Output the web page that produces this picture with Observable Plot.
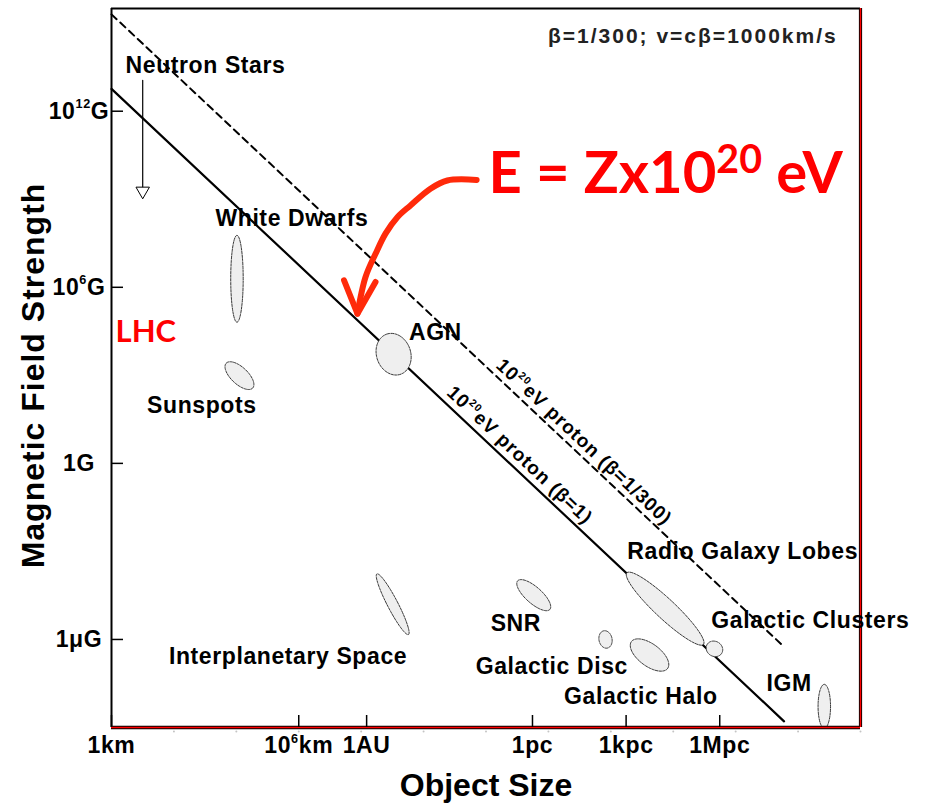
<!DOCTYPE html>
<html>
<head>
<meta charset="utf-8">
<script src="https://cdn.jsdelivr.net/npm/d3@7"></script>
<script src="https://cdn.jsdelivr.net/npm/@observablehq/plot@0.6"></script>
<style>
  body { margin: 0; background: #fff; }
  #chart svg { overflow: visible; }
</style>
</head>
<body>
<div id="chart"></div>
<script>
// ---- Axis ticks (R in metres, B in gauss) ----
const xTickValues = [1e3, 1e9, 1.496e11, 3.086e16, 3.086e19, 3.086e22];
const xTickLabels = ["1km", "10^{6}km", "1AU", "1pc", "1kpc", "1Mpc"];
const yTickValues = [1e12, 1e6, 1, 1e-6];
const yTickLabels = ["10^{12}G", "10^{6}G", "1G", "1μG"];
const xMinorLog = [5, 7, 9, 11, 13, 15, 17, 19, 21, 23, 25, 27];

// ---- Hillas lines: log10(B·R) constant (gauss·metre) ----
const lineLogR = [3, 24.55];
const protonBeta1LogBR = 15.76;
const protonBeta300LogBR = 18.3;

// ---- Source regions (log10 R, log10 B, half-extent along/across major axis in decades, tilt) ----
const objNames   = ["White Dwarfs", "Sunspots", "AGN", "Interplanetary Space", "SNR", "Galactic Disc", "Galactic Halo", "Radio Galaxy Lobes", "Galactic Clusters", "IGM"];
const objLogR    = [7.02, 7.10, 12.04, 12.01, 16.53, 18.83, 20.24, 20.74, 22.32, 25.84];
const objLogB    = [6.29, 2.99, 3.72, -4.80, -4.49, -6.00, -6.53, -4.95, -6.32, -8.28];
const objMajor   = [1.48, 0.60, 0.72, 1.15, 0.71, 0.30, 0.74, 1.73, 0.28, 0.75];
const objMinor   = [0.20, 0.28, 0.55, 0.17, 0.27, 0.21, 0.37, 0.33, 0.25, 0.20];
const objTilt    = [90, -46, 105, -64, -44, 100, -39.5, -45, -45, 90];

// ---- Region labels (log10 R of text start, log10 B of text centre) ----
const labelNames = ["Neutron Stars", "White Dwarfs", "Sunspots", "AGN", "Interplanetary Space", "SNR", "Galactic Disc", "Galactic Halo", "Radio Galaxy Lobes", "Galactic Clusters", "IGM"];
const labelLogR  = [3.45, 6.33, 4.14, 12.53, 4.84, 15.15, 14.67, 17.50, 19.53, 22.22, 23.99];
const labelLogB  = [13.57, 8.33, 1.98, 4.45, -6.60, -5.45, -6.94, -7.95, -3.02, -5.37, -7.50];

// ---- Line labels ----
const lineLabels = ["10^{20}eV proton (β=1)", "10^{20}eV proton (β=1/300)"];
const lineLabelLogR = [16.08, 18.14];
const lineLabelLogB = [0.28, 0.73];

// ---- Neutron star upper-limit arrow ----
const nsLogR = 4.0;
const nsLogB = [13.05, 9.41];
const nsHeadLogB = 9.28;

// ---- Red hand-drawn arrow (log10 R, log10 B) ----
const redArrowLogR = [14.70, 13.76, 13.22, 12.58, 12.16, 11.78, 11.46, 11.14, 10.88];
const redArrowLogB = [9.66, 9.64, 9.36, 8.79, 8.39, 7.83, 7.14, 6.35, 5.10];
const redHeadLogR = [10.45, 10.88, 11.46];
const redHeadLogB = [6.24, 5.10, 6.18];

// ---- Annotations ----
const noteText = "β=1/300; v=cβ=1000km/s";
const noteLogR = 26.27, noteLogB = 14.54;
const bigText = "E = Zx10^{20} eV";
const bigLogR = 15.08, bigLogB = 9.84;
const lhcText = "LHC";
const lhcLogR = 3.13, lhcLogB = 4.46;

// ---- Build tables ----
const P = v => 10 ** v;
const ellipsePts = [];
objNames.forEach((name, i) => {
  const th = objTilt[i] * Math.PI / 180;
  for (let k = 0; k < 72; k++) {
    const t = k / 72 * 2 * Math.PI;
    const u = objMajor[i] * Math.cos(t), v = objMinor[i] * Math.sin(t);
    ellipsePts.push({name, lr: objLogR[i] + u * Math.cos(th) - v * Math.sin(th), lb: objLogB[i] + u * Math.sin(th) + v * Math.cos(th)});
  }
});
const labels = labelNames.map((n, i) => ({n, lr: labelLogR[i], lb: labelLogB[i]}));
const lineLabs = lineLabels.map((n, i) => ({n, lr: lineLabelLogR[i], lb: lineLabelLogB[i]}));
const redArrow = redArrowLogR.map((lr, i) => ({lr, lb: redArrowLogB[i]}));
const redHead = redHeadLogR.map((lr, i) => ({lr, lb: redHeadLogB[i]}));
const lookup = (vals, labs) => d => {
  const i = vals.findIndex(v => Math.abs(Math.log10(v) - Math.log10(d)) < 1e-6);
  return i >= 0 ? labs[i] : "";
};
const pixAngle = Math.atan((29.37) / (31.2)) * 180 / Math.PI;

const RED = "#ff0000";
const ARROWRED = "#ff2a0a";

const plot = Plot.plot({
  width: 933,
  height: 811,
  marginLeft: 111,
  marginRight: 73,
  marginTop: 8,
  marginBottom: 84,
  x: {type: "log", domain: [1e3, 1e27], axis: null},
  y: {type: "log", domain: [1e-9, 10 ** 15.5], axis: null},
  style: "background:#fff;color:#000;font-family:'Liberation Sans',Arial,Helvetica,sans-serif;letter-spacing:0.6px;overflow:visible;",
  marks: [
    // minor dots below the x axis
    Plot.dot(xMinorLog, {x: P, y: 1e-9, dy: 4, r: 1, fill: "#c4c4c4"}),
    // Hillas lines
    Plot.line(lineLogR, {x: P, y: d => P(protonBeta300LogBR - d), stroke: "#000", strokeWidth: 2, strokeDasharray: "7,5"}),
    Plot.line(lineLogR, {x: P, y: d => P(protonBeta1LogBR - d), stroke: "#000", strokeWidth: 2.2}),
    // source regions
    Plot.line(ellipsePts, {x: d => P(d.lr), y: d => P(d.lb), z: "name", curve: "linear-closed", fill: "#efefef", stroke: "#222", strokeWidth: 0.9, strokeDasharray: "2.5,1.2"}),
    // neutron star arrow
    Plot.line(nsLogB, {x: () => P(nsLogR), y: P, stroke: "#000", strokeWidth: 1.2}),
    Plot.dot([nsHeadLogB], {x: () => P(nsLogR), y: P, symbol: "triangle", rotate: 180, r: 5, fill: "#fff", stroke: "#000", strokeWidth: 1}),
    // frame
    Plot.ruleX([1e3], {stroke: "#000", strokeWidth: 2}),
    Plot.ruleY([10 ** 15.5], {stroke: "#000", strokeWidth: 2}),
    Plot.ruleY([1e-9], {stroke: "#000", strokeWidth: 3.6}),
    Plot.ruleY([1e-9], {stroke: RED, strokeWidth: 1.6}),
    Plot.ruleX([1e27], {stroke: "#000", strokeWidth: 3.2}),
    Plot.ruleX([1e27], {stroke: RED, strokeWidth: 1.4}),
    // inward ticks
    Plot.axisY({ticks: yTickValues, anchor: "left", tickSize: -12, text: null, tickFormat: () => "", label: null, strokeWidth: 1.5}),
    Plot.axisX({ticks: xTickValues, anchor: "bottom", tickSize: -12, text: null, tickFormat: () => "", label: null, strokeWidth: 1.5}),
    // tick labels
    Plot.axisY({ticks: yTickValues, anchor: "left", tickSize: 0, tickPadding: 32.5, textAnchor: "middle", tickFormat: lookup(yTickValues, yTickLabels), fontSize: 23, fontWeight: "bold", label: null}),
    Plot.axisX({ticks: xTickValues, anchor: "bottom", tickSize: 0, tickPadding: 9, tickFormat: lookup(xTickValues, xTickLabels), fontSize: 23, fontWeight: "bold", label: null}),
    // axis titles
    Plot.text(["Magnetic Field Strength"], {frameAnchor: "left", dx: -78, dy: 7.5, rotate: -90, textAnchor: "middle", lineAnchor: "middle", fontSize: 32, fontWeight: "bold"}),
    Plot.text(["Object Size"], {frameAnchor: "bottom", dy: 58, textAnchor: "middle", lineAnchor: "middle", fontSize: 32, fontWeight: "bold"}),
    // region labels
    Plot.text(labels, {x: d => P(d.lr), y: d => P(d.lb), text: "n", textAnchor: "start", fontSize: 23, fontWeight: "bold"}),
    // line labels
    Plot.text(lineLabs, {x: d => P(d.lr), y: d => P(d.lb), text: "n", rotate: pixAngle, fontSize: 19, fontWeight: "bold"}),
    // top-right note
    Plot.text([noteText], {x: () => P(noteLogR), y: () => P(noteLogB), textAnchor: "end", fontSize: 21, fontWeight: "bold", fill: "#222"}),
    // red annotations
    Plot.line(redArrow, {x: d => P(d.lr), y: d => P(d.lb), curve: "catmull-rom", stroke: ARROWRED, strokeWidth: 6, strokeLinecap: "round", strokeLinejoin: "round"}),
    Plot.line(redHead, {x: d => P(d.lr), y: d => P(d.lb), stroke: ARROWRED, strokeWidth: 6, strokeLinecap: "round", strokeLinejoin: "round"}),
    Plot.text([bigText], {x: () => P(bigLogR), y: () => P(bigLogB), textAnchor: "start", fontFamily: "Lato, 'Open Sans', sans-serif", fontSize: 58, fontWeight: "bold", fill: RED}),
    Plot.text([lhcText], {x: () => P(lhcLogR), y: () => P(lhcLogB), textAnchor: "start", fontFamily: "Lato, 'Open Sans', sans-serif", fontSize: 31, fontWeight: "bold", fill: RED})
  ]
});

document.getElementById("chart").appendChild(plot);

// superscripts: "^{..}" -> raised tspans
const NS = "http://www.w3.org/2000/svg";
plot.querySelectorAll("text").forEach(t => {
  const s = t.textContent;
  if (s === "E = Zx10^{20} eV" || s === "LHC") t.style.letterSpacing = "0px";
  if (s === noteText) t.style.letterSpacing = "2px";
  if (s === "Magnetic Field Strength") t.style.letterSpacing = "1px";
  if (s === "Object Size") t.style.letterSpacing = "0px";
  if (lineLabels.includes(s)) t.style.letterSpacing = "1px";
  if (!s.includes("^{")) return;
  const fs = parseFloat(getComputedStyle(t).fontSize);
  const big = fs > 40;
  const ratio = big ? 0.68 : 0.55;
  const raise = (big ? 0.35 : 0.45) * fs;
  const parts = s.split(/\^\{([^}]*)\}/);
  t.textContent = "";
  let pending = 0;
  parts.forEach((p, i) => {
    if (p === "") return;
    const ts = document.createElementNS(NS, "tspan");
    ts.textContent = p;
    if (i % 2 === 1) {
      ts.setAttribute("font-size", (fs * ratio).toFixed(1));
      ts.setAttribute("dy", (-raise).toFixed(1));
      pending = raise;
    } else if (pending) {
      ts.setAttribute("dy", pending.toFixed(1));
      pending = 0;
    }
    t.appendChild(ts);
  });
});
</script>
</body>
</html>
